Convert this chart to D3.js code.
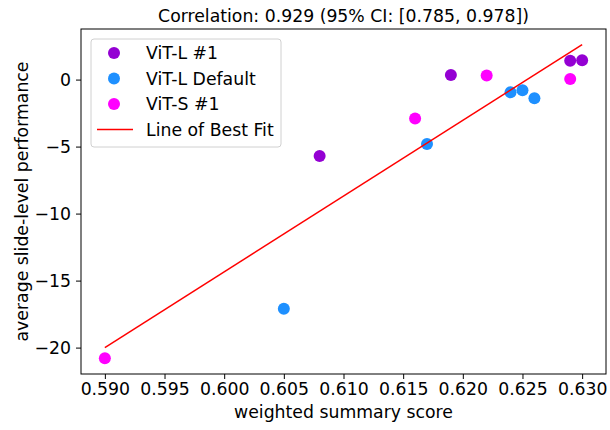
<!DOCTYPE html>
<html>
<head>
<meta charset="utf-8">
<script src="https://cdn.jsdelivr.net/npm/d3@7"></script>
<style>
  body { margin: 0; background: #fff; }
  svg text { font-family: "DejaVu Sans", sans-serif; }
</style>
</head>
<body>
<div id="chart"></div>
<script>
// series
const vitL1X = [0.608, 0.619, 0.629, 0.630];
const vitL1Y = [-5.7, 0.35, 1.4, 1.45];
const vitLDefX = [0.605, 0.617, 0.624, 0.625, 0.626];
const vitLDefY = [-17.1, -4.8, -0.95, -0.8, -1.4];
const vitS1X = [0.590, 0.616, 0.622, 0.629];
const vitS1Y = [-20.8, -2.9, 0.3, 0.05];
const seriesNames = ["ViT-L #1", "ViT-L Default", "ViT-S #1"];
const seriesColors = ["#9400D3", "#1E90FF", "#FF00FF"];
const xTicks = [0.590, 0.595, 0.600, 0.605, 0.610, 0.615, 0.620, 0.625, 0.630];
const yTicks = [0, -5, -10, -15, -20];

const fontSize = 17.3;

function drawScatter() {
  const width = 610;
  const height = 430;
  const margin = { top: 29, right: 4, bottom: 56, left: 81 };

  const svg = d3.select("#chart")
    .append("svg")
    .attr("width", width)
    .attr("height", height);

  const series = [
    { name: seriesNames[0], color: seriesColors[0], xs: vitL1X, ys: vitL1Y },
    { name: seriesNames[1], color: seriesColors[1], xs: vitLDefX, ys: vitLDefY },
    { name: seriesNames[2], color: seriesColors[2], xs: vitS1X, ys: vitS1Y }
  ];
  const points = [];
  series.forEach(s => s.xs.forEach((x, i) => points.push({ x, y: s.ys[i], color: s.color })));

  // least squares fit
  const mx = d3.mean(points, d => d.x);
  const my = d3.mean(points, d => d.y);
  const slope = d3.sum(points, d => (d.x - mx) * (d.y - my)) / d3.sum(points, d => (d.x - mx) ** 2);
  const fit = x => my + slope * (x - mx);
  const [x0, x1] = d3.extent(points, d => d.x);
  const fitLine = [{ x: x0, y: fit(x0) }, { x: x1, y: fit(x1) }];

  // matplotlib-style 5% margins
  const yAll = points.map(d => d.y).concat(fitLine.map(d => d.y));
  const xPad = (x1 - x0) * 0.05;
  const yMin = d3.min(yAll), yMax = d3.max(yAll);
  const yPad = (yMax - yMin) * 0.05;

  const x = d3.scaleLinear()
    .domain([x0 - xPad, x1 + xPad])
    .range([margin.left, width - margin.right]);
  const y = d3.scaleLinear()
    .domain([yMin - yPad, yMax + yPad])
    .range([height - margin.bottom, margin.top]);

  // axes
  const xAxis = svg.append("g")
    .attr("transform", `translate(0,${height - margin.bottom})`)
    .call(d3.axisBottom(x).tickValues(xTicks).tickFormat(d3.format(".3f")).tickSize(5).tickPadding(4));
  const yAxis = svg.append("g")
    .attr("transform", `translate(${margin.left},0)`)
    .call(d3.axisLeft(y).tickValues(yTicks).tickFormat(d => d < 0 ? "\u2212" + Math.abs(d) : d).tickSize(5).tickPadding(5));
  [xAxis, yAxis].forEach(g => {
    g.select(".domain").remove();
    g.selectAll("text").attr("font-size", fontSize).attr("fill", "#000");
    g.selectAll("line").attr("stroke", "#000").attr("stroke-width", 1);
  });

  // frame
  svg.append("rect")
    .attr("x", margin.left)
    .attr("y", margin.top)
    .attr("width", width - margin.left - margin.right)
    .attr("height", height - margin.top - margin.bottom)
    .attr("fill", "none")
    .attr("stroke", "#000")
    .attr("stroke-width", 1);

  // points
  svg.selectAll("circle.pt")
    .data(points)
    .join("circle")
    .attr("class", "pt")
    .attr("cx", d => x(d.x))
    .attr("cy", d => y(d.y))
    .attr("r", 6)
    .attr("fill", d => d.color);

  // line of best fit
  svg.append("path")
    .datum(fitLine)
    .attr("fill", "none")
    .attr("stroke", "red")
    .attr("stroke-width", 1.5)
    .attr("d", d3.line().x(d => x(d.x)).y(d => y(d.y)));

  // title and labels
  svg.append("text")
    .attr("x", (margin.left + width - margin.right) / 2)
    .attr("y", 22)
    .attr("text-anchor", "middle")
    .attr("font-size", fontSize)
    .text("Correlation: 0.929 (95% CI: [0.785, 0.978])");
  svg.append("text")
    .attr("x", (margin.left + width - margin.right) / 2)
    .attr("y", 418)
    .attr("text-anchor", "middle")
    .attr("font-size", fontSize)
    .text("weighted summary score");
  svg.append("text")
    .attr("transform", `translate(28,${(margin.top + height - margin.bottom) / 2}) rotate(-90)`)
    .attr("text-anchor", "middle")
    .attr("font-size", fontSize)
    .text("average slide-level performance");

  // legend
  const legend = svg.append("g").attr("transform", "translate(91,39)");
  legend.append("rect")
    .attr("width", 190)
    .attr("height", 108)
    .attr("rx", 3)
    .attr("fill", "#fff")
    .attr("fill-opacity", 0.8)
    .attr("stroke", "#d0d0d0");
  const items = series.map(s => ({ name: s.name, color: s.color, type: "dot" }))
    .concat([{ name: "Line of Best Fit", color: "red", type: "line" }]);
  const row = legend.selectAll("g.item")
    .data(items)
    .join("g")
    .attr("class", "item")
    .attr("transform", (d, i) => `translate(0,${14 + i * 25.5})`);
  row.filter(d => d.type === "dot").append("circle")
    .attr("cx", 23).attr("r", 6).attr("fill", d => d.color);
  row.filter(d => d.type === "line").append("line")
    .attr("x1", 6).attr("x2", 42).attr("stroke", d => d.color).attr("stroke-width", 1.5);
  row.append("text")
    .attr("x", 55)
    .attr("dy", "0.35em")
    .attr("font-size", fontSize)
    .text(d => d.name);
}

drawScatter();
</script>
</body>
</html>
